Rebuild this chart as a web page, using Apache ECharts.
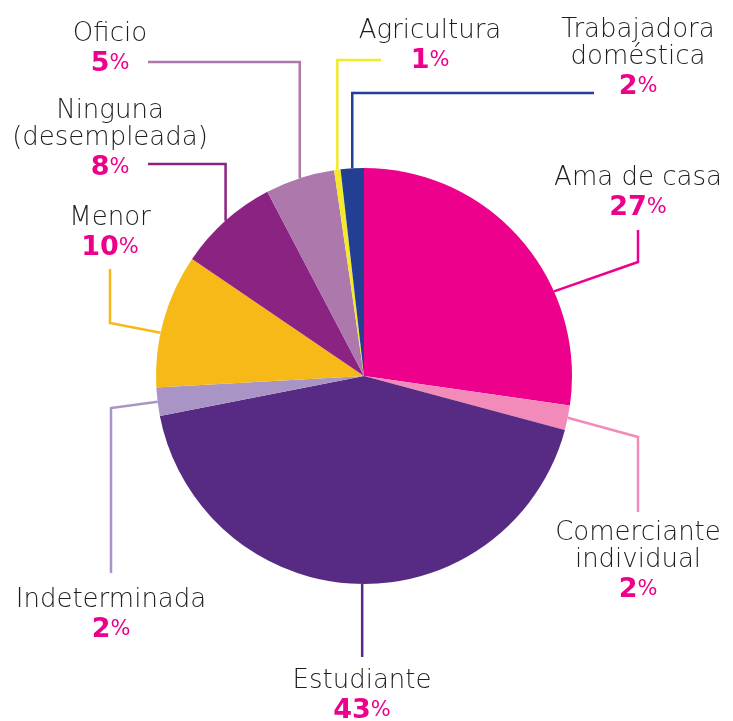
<!DOCTYPE html>
<html>
<head>
<meta charset="utf-8">
<script src="https://cdn.jsdelivr.net/npm/echarts@6/dist/echarts.min.js"></script>
<style>
  html, body { margin: 0; padding: 0; background: #ffffff; }
  #chart { width: 733px; height: 721px; }
</style>
</head>
<body>
<div id="chart"></div>
<script>
// ---- Data ----
const categories = [
  'Ama de casa',
  'Comerciante\nindividual',
  'Estudiante',
  'Indeterminada',
  'Menor',
  'Ninguna\n(desempleada)',
  'Oficio',
  'Agricultura',
  'Trabajadora\ndoméstica'
];
const shares = [27.3, 1.9, 42.8, 2.2, 10.4, 7.8, 5.4, 0.5, 1.8];
const colors = ['#EC008C', '#F28BB9', '#572A84', '#A894C5', '#F6B918', '#8A2382', '#AD78AB', '#F2EA2A', '#233F93'];

// ---- Layout (positions only) ----
const CENTER = [364, 376];
const RADIUS = 208;
function edgeAt(deg) {
  const a = deg * Math.PI / 180;
  return [CENTER[0] + RADIUS * Math.sin(a), CENTER[1] - RADIUS * Math.cos(a)];
}
// x,y: anchor of label block (center x, top y); angle: optional start point of guide line on the rim
const labelPlacement = [
  { x: 638, y: 165, angle: 66,    line: (e) => [e, [638, 262], [638, 230]] },
  { x: 638, y: 520,               line: (e) => [e, [638, 437], [638, 512]] },
  { x: 362, y: 668, angle: 180.5, line: (e) => [e, [e[0], 657]] },
  { x: 111, y: 587,               line: (e) => [e, [111, 408], [111, 573]] },
  { x: 110, y: 205, angle: 282,   line: (e) => [e, [110, 323], [110, 269]] },
  { x: 110, y: 98,                line: (e) => [e, [e[0], 164], [148, 164]] },
  { x: 110, y: 21,                line: (e) => [e, [e[0], 62], [148, 62]] },
  { x: 430, y: 18,                line: (e) => [e, [e[0], 60], [381, 60]] },
  { x: 638, y: 17,                line: (e) => [e, [e[0], 93], [594, 93]] }
];

const chart = echarts.init(document.getElementById('chart'), null, { renderer: 'canvas' });

const data = categories.map((name, i) => ({
  name: name,
  value: shares[i],
  itemStyle: { color: colors[i] },
  labelLine: { lineStyle: { color: colors[i] } }
}));

chart.setOption({
  backgroundColor: '#ffffff',
  animation: false,
  series: [{
    type: 'pie',
    center: CENTER,
    radius: RADIUS,
    startAngle: 90,
    clockwise: true,
    avoidLabelOverlap: false,
    minShowLabelAngle: 0,
    itemStyle: { borderWidth: 0 },
    emphasis: { disabled: true },
    data: data,
    label: {
      show: true,
      position: 'outside',
      overflow: 'none',
      formatter: (p) => {
        const lines = p.name.split('\n').map(s => '{n|' + s + '}');
        return lines.join('\n') + '\n{v|' + Math.round(p.value) + '}{p|%}';
      },
      rich: {
        n: { fontFamily: 'DejaVu Sans', fontSize: 26, fontWeight: 200, color: '#1e1e1e', lineHeight: 27 },
        v: { fontFamily: 'DejaVu Sans', fontSize: 27, fontWeight: 'bold', color: '#EC008C', lineHeight: 31 },
        p: { fontFamily: 'DejaVu Sans', fontSize: 21, fontWeight: 'normal', color: '#EC008C', lineHeight: 31 }
      }
    },
    labelLine: {
      show: true,
      length: 10,
      length2: 10,
      smooth: false,
      lineStyle: { width: 2.5 }
    },
    labelLayout: (params) => {
      const pl = labelPlacement[params.dataIndex];
      const pts = params.labelLinePoints;
      const edge = pl.angle != null ? edgeAt(pl.angle) : (pts && pts[0] ? pts[0] : edgeAt(0));
      return {
        x: pl.x,
        y: pl.y,
        align: 'center',
        verticalAlign: 'top',
        labelLinePoints: pl.line(edge)
      };
    }
  }]
});
</script>
</body>
</html>
